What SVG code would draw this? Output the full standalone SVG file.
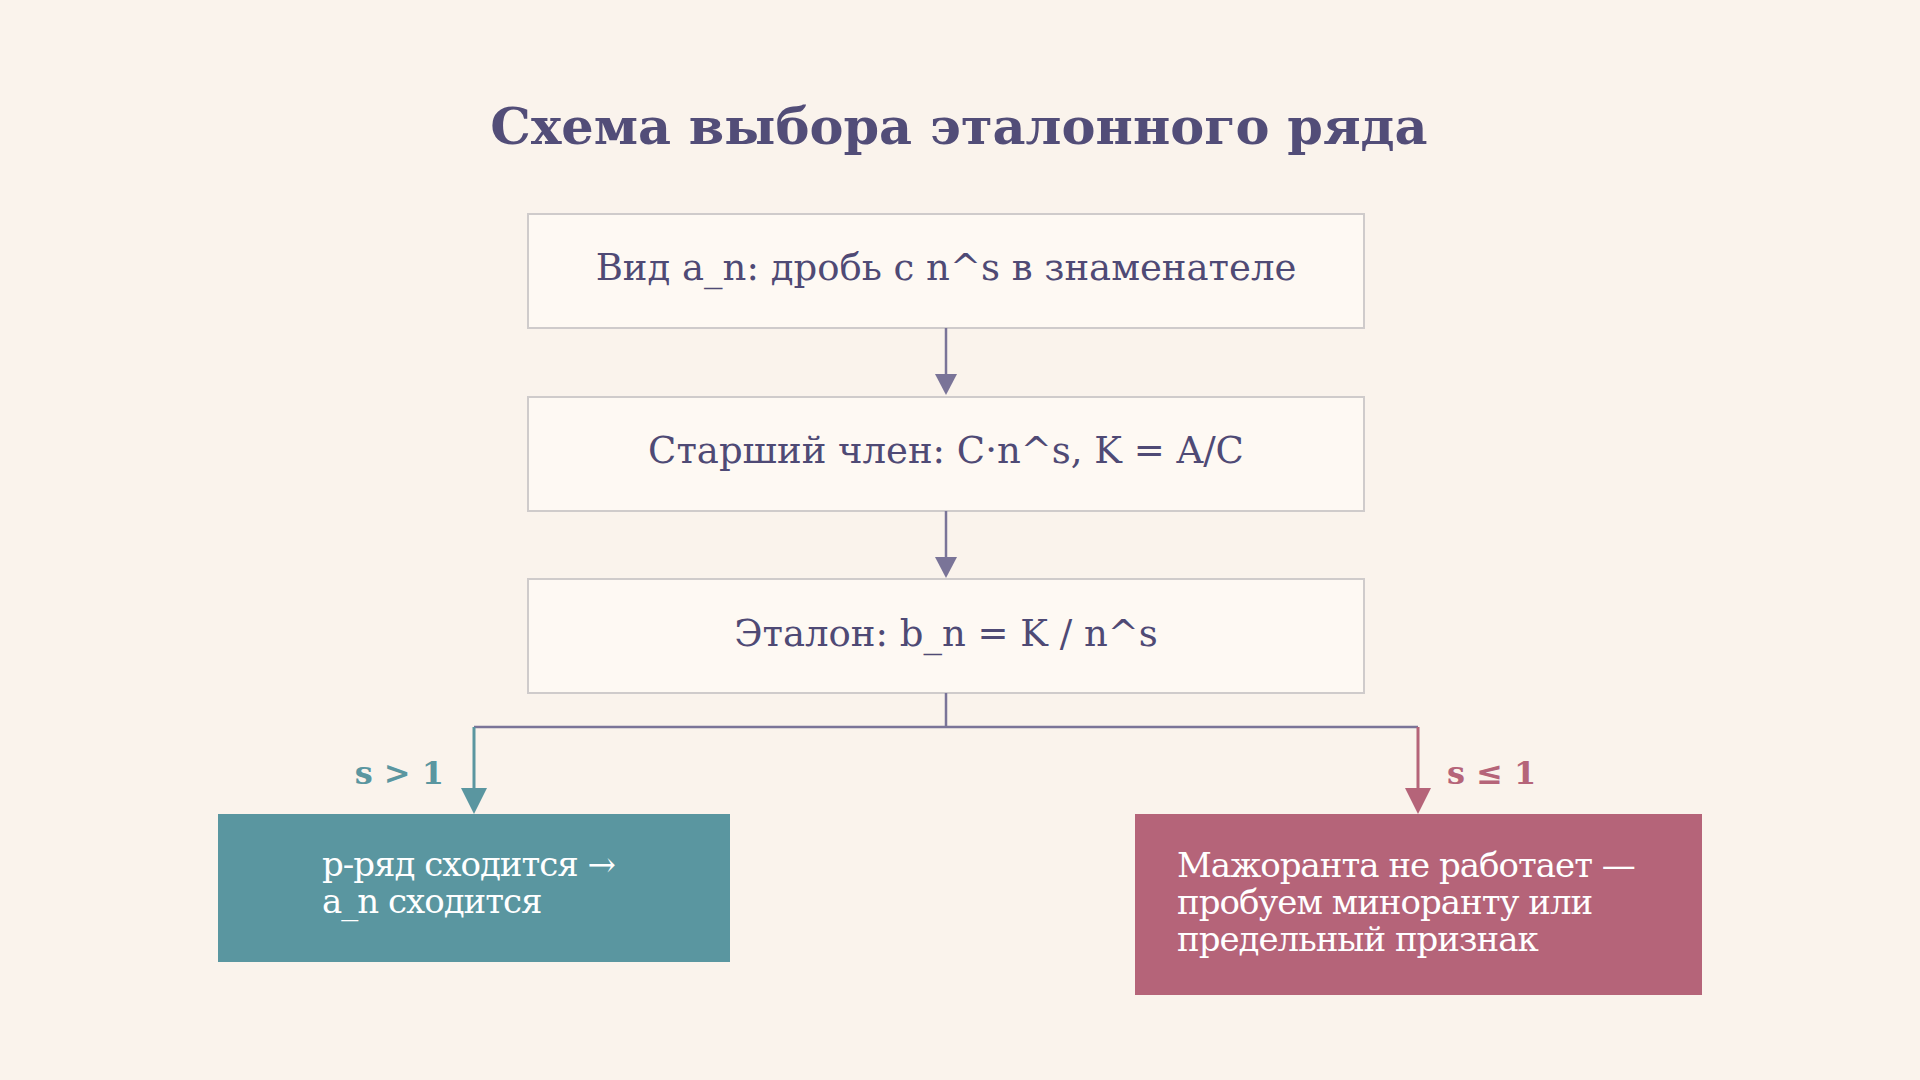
<svg xmlns="http://www.w3.org/2000/svg" width="1920" height="1080" viewBox="0 0 1920 1080">
<style>
.t{font-family:"DejaVu Serif","Liberation Serif",serif;}
.box{fill:#FEF9F3;stroke:#CFCBCB;stroke-width:2}
.bt{font-size:37px;fill:#4F4A75;text-anchor:middle}
.ln{fill:none;stroke:#7A7498;stroke-width:2.5}
.wt{font-size:34px;fill:#FFFFFF;letter-spacing:-1px}
</style>
<rect width="1920" height="1080" fill="#FAF3EC"/>
<text class="t" x="959" y="144" font-size="51" font-weight="bold" fill="#524D78" text-anchor="middle">Схема выбора эталонного ряда</text>
<g id="n1"><rect class="box" x="528" y="214" width="836" height="114"/><text class="t bt" x="946" y="280">Вид a_n: дробь с n^s в знаменателе</text></g>
<g id="n2"><rect class="box" x="528" y="397" width="836" height="114"/><text class="t bt" x="946" y="463">Старший член: C·n^s,  K = A/C</text></g>
<g id="n3"><rect class="box" x="528" y="579" width="836" height="114"/><text class="t bt" x="946" y="646">Эталон: b_n = K / n^s</text></g>
<g id="n4"><rect x="218" y="814" width="512" height="148" fill="#5A96A0"/><text class="t wt" x="322" y="876">p-ряд сходится →</text><text class="t wt" x="322" y="913">a_n сходится</text></g>
<g id="n5"><rect x="1135" y="814" width="567" height="181" fill="#B56479"/><text class="t wt" x="1177" y="877">Мажоранта не работает —</text><text class="t wt" x="1177" y="914">пробуем миноранту или</text><text class="t wt" x="1177" y="951">предельный признак</text></g>
<g id="connectors">
<path class="ln" d="M946 328 V381" /><path d="M935 374 L957 374 L946 395 z" fill="#7A7498"/>
<path class="ln" d="M946 511 V564" /><path d="M935 557 L957 557 L946 578 z" fill="#7A7498"/>
<path class="ln" d="M946 693 V727 M474 727 H1418"/>
<path d="M474 727 V796" stroke="#5A96A0" stroke-width="3" fill="none"/><path d="M461 788 L487 788 L474 814 z" fill="#5A96A0"/>
<path d="M1418 727 V796" stroke="#B56479" stroke-width="3" fill="none"/><path d="M1405 788 L1431 788 L1418 814 z" fill="#B56479"/>
<text class="t" x="444" y="784" font-size="32" font-weight="bold" fill="#5A96A0" text-anchor="end">s &gt; 1</text>
<text class="t" x="1447" y="784" font-size="32" font-weight="bold" fill="#B56479">s ≤ 1</text>
</g>
</svg>
